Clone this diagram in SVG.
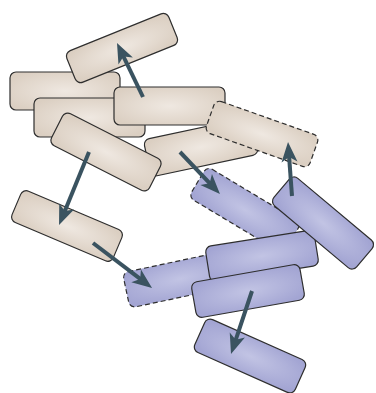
<svg xmlns="http://www.w3.org/2000/svg" width="376" height="393" viewBox="0 0 376 393">
  <defs>
    <radialGradient id="gBeige" cx="0.5" cy="0.5" r="0.6">
      <stop offset="0" stop-color="#efe8e1"/>
      <stop offset="1" stop-color="#dbcfc2"/>
    </radialGradient>
    <radialGradient id="gBlue" cx="0.5" cy="0.5" r="0.6">
      <stop offset="0" stop-color="#c2c4e4"/>
      <stop offset="1" stop-color="#a3a5d3"/>
    </radialGradient>
    <marker id="head" markerUnits="userSpaceOnUse" markerWidth="20" markerHeight="16" refX="8" refY="8" orient="auto" overflow="visible">
      <path d="M0,0 L20,8 L0,16 L5,8 Z" fill="#3a5360"/>
    </marker>
  </defs>
  <style>
    .beige { fill: url(#gBeige); stroke: #2e2e2e; stroke-width: 1.2; }
    .blue { fill: url(#gBlue); stroke: #2e2e2e; stroke-width: 1.2; }
    .dashed { stroke-dasharray: 5 3; }
    .arrow { stroke: #3a5360; stroke-width: 4; fill: none; marker-end: url(#head); }
  </style>

  <!-- beige blocks, back to front -->
  <g id="nodeB"><rect class="beige" x="10" y="72" width="110" height="38" rx="6"/></g>
  <g id="nodeC"><rect class="beige" x="34" y="98" width="111" height="39" rx="6"/></g>
  <g id="nodeD"><rect class="beige" x="114" y="87" width="111" height="38" rx="6"/></g>
  <g id="nodeF" transform="translate(201,147) rotate(-12)"><rect class="beige" x="-55" y="-19" width="110" height="38" rx="6"/></g>
  <g id="nodeE" transform="translate(106,152) rotate(27)"><rect class="beige" x="-55" y="-18" width="110" height="36" rx="6"/></g>
  <g id="nodeG" transform="translate(262,134) rotate(19.5)"><rect class="beige dashed" x="-55" y="-17" width="110" height="34" rx="6"/></g>
  <g id="nodeA" transform="translate(122,48) rotate(-22)"><rect class="beige" x="-55" y="-17" width="110" height="34" rx="6"/></g>
  <g id="nodeN" transform="translate(67,226) rotate(23)"><rect class="beige" x="-55" y="-17" width="110" height="34" rx="6"/></g>

  <!-- blue blocks, back to front -->
  <g id="nodeH" transform="translate(245,210) rotate(31)"><rect class="blue dashed" x="-55" y="-18" width="110" height="36" rx="6"/></g>
  <g id="nodeM" transform="translate(180,279) rotate(-12)"><rect class="blue dashed" x="-55" y="-18" width="110" height="36" rx="6"/></g>
  <g id="nodeI" transform="translate(262,256) rotate(-9)"><rect class="blue" x="-55" y="-18" width="110" height="36" rx="6"/></g>
  <g id="nodeJ" transform="translate(323,223) rotate(40)"><rect class="blue" x="-54" y="-18" width="108" height="36" rx="6"/></g>
  <g id="nodeK" transform="translate(248,291) rotate(-10)"><rect class="blue" x="-55" y="-18" width="110" height="36" rx="6"/></g>
  <g id="nodeL" transform="translate(250,356) rotate(24)"><rect class="blue" x="-55" y="-18" width="110" height="36" rx="6"/></g>

  <!-- connectors -->
  <g id="connectors">
    <line class="arrow" x1="143" y1="97" x2="122.2" y2="53.8"/>
    <line class="arrow" x1="89" y1="152" x2="63.6" y2="213.9"/>
    <line class="arrow" x1="93" y1="243" x2="142.5" y2="280.7"/>
    <line class="arrow" x1="180" y1="152" x2="211.7" y2="185.3"/>
    <line class="arrow" x1="292" y1="196" x2="288.9" y2="154"/>
    <line class="arrow" x1="252" y1="291" x2="234.8" y2="342.6"/>
  </g>
</svg>
